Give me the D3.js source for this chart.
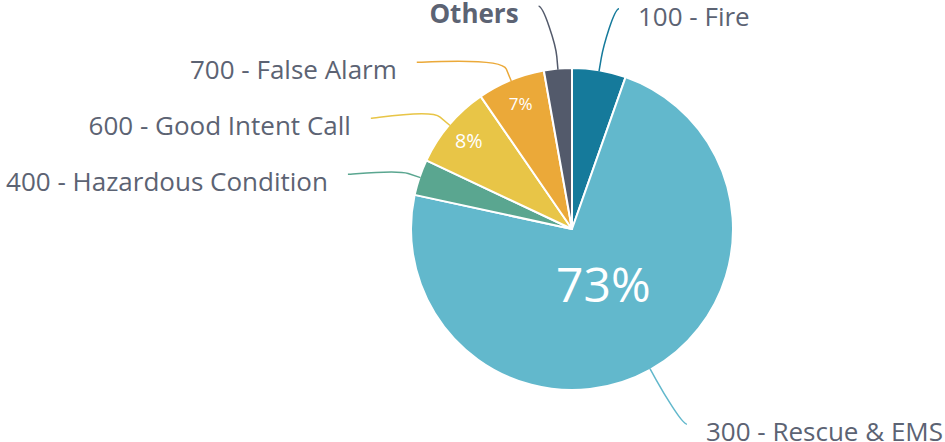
<!DOCTYPE html>
<html>
<head>
<meta charset="utf-8">
<script src="https://cdn.jsdelivr.net/npm/d3@7"></script>
<style>
  body { margin: 0; background: #fff; }
  text { font-family: "Open Sans", sans-serif; }
</style>
</head>
<body>
<svg width="945" height="442"></svg>
<script>
const categories = ['100 - Fire', '300 - Rescue & EMS', '400 - Hazardous Condition', '600 - Good Intent Call', '700 - False Alarm', 'Others'];
const shares = [5.4, 73, 3.6, 8.4, 6.8, 2.8];
const colors = ['#157a9b', '#62b8cc', '#5aa690', '#e8c547', '#eba939', '#535a6b'];

const svg = d3.select('svg');
const cx = 572, cy = 229, r = 161;
const labR = 223.5, rx = 231, ry = 225, gap = 56;
const textColor = '#5c6373';

const data = categories.map((c, i) => ({ name: c, v: shares[i], color: colors[i] }));
const arcs = d3.pie().sort(null).value(d => d.v)(data);
const arc = d3.arc().innerRadius(0).outerRadius(r);
const pt = (a, rad) => [cx + rad * Math.sin(a), cy - rad * Math.cos(a)];

const g = svg.append('g');
g.selectAll('path.slice')
  .data(arcs)
  .join('path')
  .attr('class', 'slice')
  .attr('transform', `translate(${cx},${cy})`)
  .attr('d', arc)
  .attr('fill', d => d.data.color)
  .attr('stroke', '#fff')
  .attr('stroke-width', 2)
  .attr('stroke-linejoin', 'round');

// label layout, pushed apart vertically like highcharts does
arcs.forEach(d => {
  d.mid = (d.startAngle + d.endAngle) / 2;
  d.left = Math.sin(d.mid) < 0;
  d.ly = cy - labR * Math.cos(d.mid);
});
[true, false].forEach(side => {
  const s = arcs.filter(d => d.left === side).sort((a, b) => a.ly - b.ly);
  for (let i = 1; i < s.length; i++) s[i].ly = Math.max(s[i].ly, s[i - 1].ly + gap);
});
arcs.forEach(d => {
  const k = Math.min(1, Math.abs(d.ly - cy) / ry);
  d.lx = cx + (d.left ? -1 : 1) * rx * Math.sqrt(1 - k * k);
});

g.selectAll('path.conn')
  .data(arcs)
  .join('path')
  .attr('class', 'conn')
  .attr('fill', 'none')
  .attr('stroke', d => d.data.color)
  .attr('stroke-width', 1.5)
  .attr('d', d => {
    const t = pt(d.mid, r - 1), b = pt(d.mid, r + 12);
    const s = d.left ? 5 : -5;
    return `M${d.lx},${d.ly}C${d.lx + s},${d.ly} ${2 * b[0] - t[0]},${2 * b[1] - t[1]} ${b[0]},${b[1]}L${t[0]},${t[1]}`;
  });

g.selectAll('text.lab')
  .data(arcs)
  .join('text')
  .attr('class', 'lab')
  .attr('x', d => d.left ? d.lx - 20 : d.lx + 19)
  .attr('y', d => d.ly + 17)
  .attr('text-anchor', d => d.left ? 'end' : 'start')
  .attr('font-size', 26)
  .attr('font-weight', d => d.data.name === 'Others' ? 'bold' : 'normal')
  .attr('fill', textColor)
  .text(d => d.data.name);

// percentages inside the bigger slices
const fontSize = d3.scaleLog().domain([6.8, 73]).range([17, 48]);
const pctR = d => d.data.v > 50 ? r * 0.4 : r * 0.84;
g.selectAll('text.pct')
  .data(arcs.filter(d => d.data.v > 6))
  .join('text')
  .attr('class', 'pct')
  .attr('x', d => pt(d.mid, pctR(d))[0])
  .attr('y', d => pt(d.mid, pctR(d))[1])
  .attr('dy', '0.35em')
  .attr('text-anchor', 'middle')
  .attr('font-size', d => fontSize(d.data.v))
  .attr('fill', '#fff')
  .text(d => Math.round(d.data.v) + '%');
</script>
</body>
</html>
